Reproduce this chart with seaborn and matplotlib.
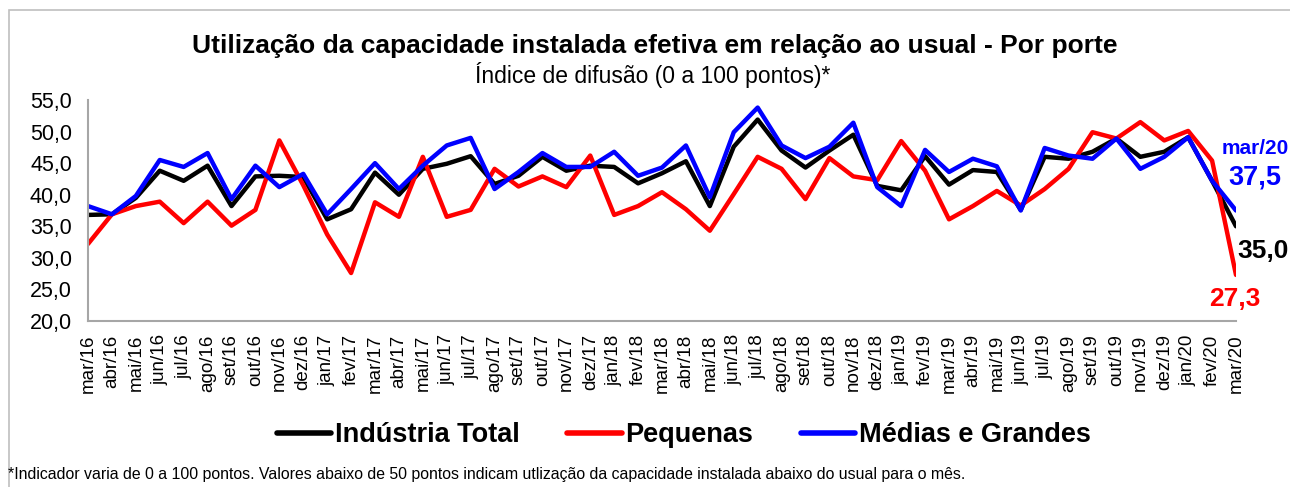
import matplotlib
matplotlib.use("Agg")
import matplotlib.pyplot as plt
from matplotlib.patches import Rectangle
import pandas as pd
import seaborn as sns

meses = ["jan", "fev", "mar", "abr", "mai", "jun", "jul", "ago", "set", "out", "nov", "dez"]
periodos = [f"{meses[(2 + i) % 12]}/{16 + (2 + i) // 12}" for i in range(49)]

industria_total = [36.8, 36.9, 39.5, 43.8, 42.2, 44.6, 38.2, 42.9, 43.0, 42.8, 36.1, 37.7,
                   43.5, 40.0, 44.1, 44.9, 46.1, 41.7, 43.0, 46.0, 43.8, 44.6, 44.4, 41.8,
                   43.4, 45.3, 38.2, 47.6, 51.9, 47.0, 44.3, 47.0, 49.5, 41.4, 40.7, 46.1,
                   41.6, 43.9, 43.6, 37.6, 46.0, 45.7, 46.8, 48.9, 46.0, 46.8, 49.1, 42.2, 35.0]
pequenas = [32.2, 36.9, 38.2, 38.9, 35.5, 38.9, 35.1, 37.6, 48.6, 41.5, 33.7, 27.6,
            38.8, 36.5, 46.0, 36.5, 37.6, 44.1, 41.3, 42.9, 41.2, 46.2, 36.8, 38.2,
            40.4, 37.7, 34.3, 40.1, 46.0, 44.1, 39.3, 45.8, 42.9, 42.3, 48.5, 43.8,
            36.1, 38.2, 40.6, 38.3, 40.9, 44.1, 49.9, 48.9, 51.5, 48.6, 50.1, 45.4, 27.3]
medias_grandes = [38.2, 36.9, 39.8, 45.5, 44.4, 46.6, 39.3, 44.6, 41.2, 43.3, 36.9, 40.9,
                  45.0, 40.9, 44.6, 47.8, 49.0, 40.9, 43.6, 46.6, 44.4, 44.4, 46.8, 43.0,
                  44.3, 47.8, 39.6, 49.9, 53.8, 47.8, 45.8, 47.6, 51.4, 41.2, 38.2, 47.1,
                  43.6, 45.7, 44.5, 37.5, 47.4, 46.2, 45.7, 48.9, 44.1, 46.0, 49.1, 42.2, 37.5]

series = ["Indústria Total", "Pequenas", "Médias e Grandes"]
cores = {"Indústria Total": "#000000", "Pequenas": "#ff0000", "Médias e Grandes": "#0000ff"}

df = pd.DataFrame({
    "pos": list(range(49)) * 3,
    "valor": industria_total + pequenas + medias_grandes,
    "serie": [s for s in series for _ in range(49)],
})

sns.set_style("white", {"text.color": "black", "axes.labelcolor": "black"})
plt.rcParams["font.family"] = ["Liberation Sans", "DejaVu Sans"]

fig = plt.figure(figsize=(12.9, 4.87), dpi=100)
ax = fig.add_axes([88 / 1290, 1 - 321 / 487, (1236 - 88) / 1290, (321 - 100) / 487])

sns.lineplot(data=df, x="pos", y="valor", hue="serie", hue_order=series,
             palette=cores, linewidth=3.2, legend=False, ax=ax)

ax.set_xlim(0, 48)
ax.set_ylim(20, 55)
ax.set_xticks(range(49))
ax.set_xticklabels(periodos, rotation=90, fontsize=13.5)
ax.set_yticks(range(20, 56, 5))
ax.set_yticklabels([f"{v},0" for v in range(20, 56, 5)], fontsize=15.5)
ax.set_xlabel("")
ax.set_ylabel("")
ax.tick_params(axis="x", direction="out", length=3.6, width=1.3, color="#a6a6a6",
               labelcolor="black", pad=6)
ax.tick_params(axis="y", direction="out", length=5.5, width=1.3, color="#a6a6a6",
               labelcolor="black", pad=6)
for lado in ["top", "right"]:
    ax.spines[lado].set_visible(False)
for lado in ["left", "bottom"]:
    ax.spines[lado].set_color("#a6a6a6")
    ax.spines[lado].set_linewidth(1.5)

# rótulos do último mês
ult = 48
ax.annotate("mar/20", xy=(ult, medias_grandes[ult]), xytext=(19, 62), textcoords="offset pixels",
            ha="center", va="center", color="#0000ff", fontsize=15, fontweight="bold",
            annotation_clip=False)
ax.annotate(f"{medias_grandes[ult]:.1f}".replace(".", ","), xy=(ult, medias_grandes[ult]),
            xytext=(19, 33), textcoords="offset pixels", ha="center", va="center",
            color="#0000ff", fontsize=19.5, fontweight="bold", annotation_clip=False)
ax.annotate(f"{industria_total[ult]:.1f}".replace(".", ","), xy=(ult, industria_total[ult]),
            xytext=(27, -25), textcoords="offset pixels", ha="center", va="center",
            color="#000000", fontsize=19, fontweight="bold", annotation_clip=False)
ax.annotate(f"{pequenas[ult]:.1f}".replace(".", ","), xy=(ult, pequenas[ult]),
            xytext=(-1, -24), textcoords="offset pixels", ha="center", va="center",
            color="#ff0000", fontsize=19, fontweight="bold", annotation_clip=False)

fig.text(655 / 1290, 1 - 46 / 487, "Utilização da capacidade instalada efetiva em relação ao usual - Por porte",
         ha="center", va="center", fontsize=19, fontweight="bold")
fig.text(653 / 1290, 1 - 75 / 487, "Índice de difusão (0 a 100 pontos)*",
         ha="center", va="center", fontsize=16.5)

leg = fig.legend(handles=ax.get_lines()[:3], labels=series, loc="center",
                 bbox_to_anchor=(684 / 1290, 1 - 435 / 487), ncol=3, frameon=False,
                 handlelength=2.0, handletextpad=0.15, columnspacing=1.75,
                 prop={"weight": "bold", "size": 19.5})
for h in leg.get_lines():
    h.set_linewidth(4)

fig.text(8 / 1290, 1 - 475 / 487,
         "*Indicador varia de 0 a 100 pontos. Valores abaixo de 50 pontos indicam utlização da capacidade instalada abaixo do usual para o mês.",
         ha="left", va="center", fontsize=11.4)

fig.patches.append(Rectangle((9 / 1290, -0.1), 1.2, 1 - 10 / 487 + 0.1, transform=fig.transFigure,
                             fill=False, edgecolor="#bfbfbf", linewidth=1.2))

fig.savefig("out.png", dpi=100)
